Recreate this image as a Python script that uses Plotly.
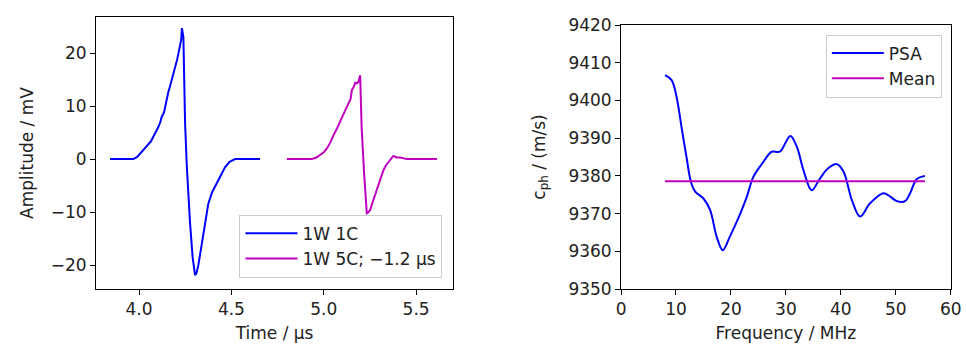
import plotly.graph_objects as go

# Left panel: time signals
t_1w1c = [3.843, 3.969, 3.99, 4.005, 4.03, 4.05, 4.065, 4.077, 4.09, 4.105, 4.115, 4.123, 4.135,
          4.141, 4.15, 4.159, 4.165, 4.177, 4.185, 4.195, 4.205, 4.213, 4.222, 4.228, 4.232,
          4.24, 4.249, 4.258, 4.276, 4.29, 4.303, 4.31, 4.321, 4.335, 4.348, 4.36, 4.375,
          4.395, 4.421, 4.445, 4.466, 4.49, 4.52, 4.655]
a_1w1c = [0.0, 0.0, 0.4, 1.0, 1.8, 2.6, 3.4, 4.2, 5.0, 6.1, 7.0, 8.0, 8.8,
          9.9, 11.0, 12.7, 13.4, 14.9, 15.8, 17.1, 18.6, 19.9, 21.2, 22.5, 24.7,
          23.0, 7.0, -1.0, -12.0, -18.5, -21.9, -21.6, -20.0, -17.0, -14.0, -11.2, -8.4,
          -6.3, -4.6, -2.8, -1.5, -0.5, 0.0, 0.0]

t_1w5c = [4.80, 4.935, 4.96, 4.98, 5.0, 5.017, 5.035, 5.053, 5.065, 5.08, 5.095, 5.107, 5.12,
          5.134, 5.145, 5.152, 5.162, 5.17, 5.18, 5.188, 5.197, 5.205, 5.219, 5.233, 5.242,
          5.251, 5.26, 5.269, 5.282, 5.296, 5.31, 5.323, 5.336, 5.35, 5.365, 5.377, 5.395,
          5.414, 5.45, 5.613]
a_1w5c = [0.0, 0.0, 0.3, 0.75, 1.3, 2.0, 3.1, 4.5, 5.3, 6.4, 7.6, 8.6, 9.4,
          10.5, 11.3, 13.0, 13.6, 14.4, 14.3, 14.6, 15.8, 6.0, -3.0, -10.2, -10.0,
          -9.6, -8.6, -7.7, -6.2, -4.6, -3.2, -2.1, -1.2, -0.5, 0.2, 0.6, 0.3,
          0.3, 0.0, 0.0]

# Right panel: phase velocity vs frequency
freq = [8.0, 9.2, 10.1, 11.0, 12.0, 12.7, 13.5, 15.0, 16.2, 17.4, 18.5, 19.8, 21.7, 22.9,
        24.1, 25.9, 27.4, 28.9, 30.8, 32.0, 33.2, 34.7, 36.2, 37.7, 39.3, 40.5, 42.0,
        43.5, 45.3, 47.7, 48.6, 50.2, 51.7, 52.6, 53.8, 55.3]
cph = [9406.7, 9405.4, 9401.0, 9393.0, 9384.2, 9378.5, 9375.8, 9374.0, 9371.0, 9363.9,
       9360.3, 9363.9, 9370.0, 9374.5, 9379.8, 9383.7, 9386.4, 9386.4, 9390.6, 9387.7,
       9381.5, 9376.2, 9379.3, 9382.0, 9383.1, 9381.1, 9373.6, 9369.2, 9372.7, 9375.4,
       9374.9, 9373.3, 9373.3, 9375.4, 9379.1, 9380.0]
mean_f = [8.0, 55.3]
mean_v = [9378.6, 9378.6]

BLUE = "#0000ff"
MAG = "#bf00bf"
FONT = "DejaVu Sans"
FS = 17
TXT = "#222222"

fig = go.Figure()
fig.add_trace(go.Scatter(x=t_1w1c, y=a_1w1c, mode="lines", name="1W 1C",
                         line=dict(color=BLUE, width=2), xaxis="x", yaxis="y", legend="legend"))
fig.add_trace(go.Scatter(x=t_1w5c, y=a_1w5c, mode="lines", name="1W 5C; \u22121.2 \u00b5s",
                         line=dict(color=MAG, width=2), xaxis="x", yaxis="y", legend="legend"))
fig.add_trace(go.Scatter(x=freq, y=cph, mode="lines", name="PSA", line_shape="spline",
                         line=dict(color=BLUE, width=2), xaxis="x2", yaxis="y2", legend="legend2"))
fig.add_trace(go.Scatter(x=mean_f, y=mean_v, mode="lines", name="Mean",
                         line=dict(color=MAG, width=2), xaxis="x2", yaxis="y2", legend="legend2"))

axis_common = dict(showline=True, linecolor="black", linewidth=1, mirror=True,
                   ticks="outside", ticklen=5, tickcolor="black", showgrid=False,
                   zeroline=False, automargin=False,
                   tickfont=dict(family=FONT, size=FS, color=TXT),
                   title_font=dict(family=FONT, size=FS, color=TXT))

legend_common = dict(bgcolor="rgba(255,255,255,0.8)", bordercolor="#cccccc", borderwidth=1,
                     font=dict(family=FONT, size=FS, color=TXT), tracegroupgap=0,
                     itemwidth=52)

fig.update_layout(
    template="none",
    width=966, height=345,
    margin=dict(l=0, r=0, t=0, b=0, pad=0),
    paper_bgcolor="white", plot_bgcolor="white",
    font=dict(family=FONT, size=FS, color=TXT),
    xaxis=dict(domain=[0.0994, 0.469], range=[3.767, 5.70], tickvals=[4.0, 4.5, 5.0, 5.5],
               ticktext=["4.0", "4.5", "5.0", "5.5"], anchor="y",
               title=dict(text="Time / \u00b5s", standoff=8), **axis_common),
    yaxis=dict(domain=[0.1623, 0.9507], range=[-24.5, 26.8], tickvals=[-20, -10, 0, 10, 20],
               ticktext=["\u221220", "\u221210", "0", "10", "20"], anchor="x",
               title=dict(text="Amplitude / mV", standoff=12), **axis_common),
    xaxis2=dict(domain=[0.6429, 0.9842], range=[0, 60], dtick=10, anchor="y2",
                title=dict(text="Frequency / MHz", standoff=8), **axis_common),
    yaxis2=dict(domain=[0.1623, 0.9275], range=[9350, 9420], dtick=10, anchor="x2",
                title=dict(text="c<sub>ph</sub> / (m/s)", standoff=18), **axis_common),
    legend=dict(x=0.458, y=0.195, xanchor="right", yanchor="bottom", **legend_common),
    legend2=dict(x=0.975, y=0.90, xanchor="right", yanchor="top", **legend_common),
    showlegend=True,
)

fig.write_html("out.html")
